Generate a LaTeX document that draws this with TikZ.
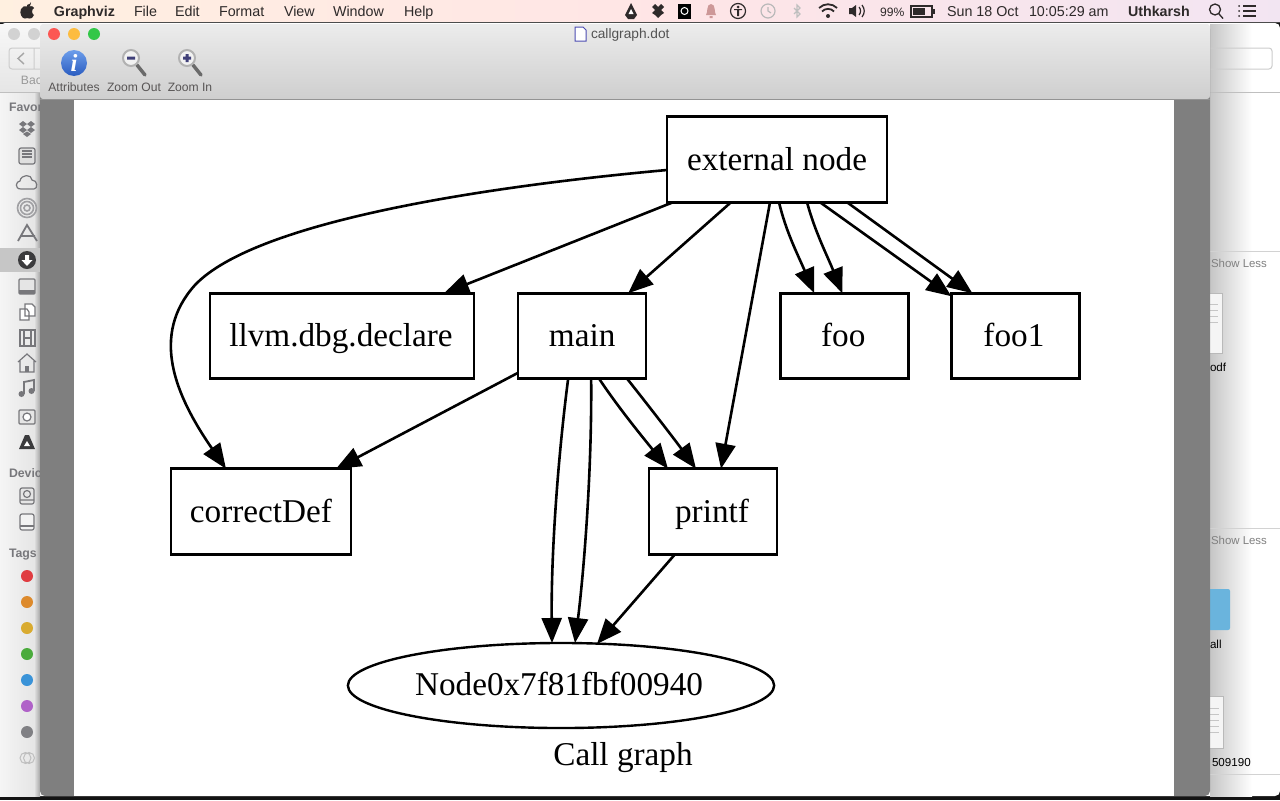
\documentclass[tikz,border=0pt]{standalone}
\usepackage{fontspec}
\setmainfont{Liberation Serif}
\newfontfamily\uifont{Liberation Sans}
\usetikzlibrary{positioning,arrows.meta,shapes.geometric}
\definecolor{menuink}{HTML}{2E2A2A}
\definecolor{sideink}{HTML}{77777B}
\definecolor{canvas}{HTML}{7F7F7F}
\definecolor{tagred}{HTML}{E03C41}
\definecolor{tagorange}{HTML}{DD8A2C}
\definecolor{tagyellow}{HTML}{D9AB30}
\definecolor{taggreen}{HTML}{4AAB3C}
\definecolor{tagblue}{HTML}{3A93D8}
\definecolor{tagpurple}{HTML}{B062C8}
\definecolor{taggray}{HTML}{808084}
\definecolor{lightred}{HTML}{FC5753}
\definecolor{lightamber}{HTML}{FDBC40}
\definecolor{lightgreen}{HTML}{33C748}
\definecolor{folderblue}{HTML}{6AB4DD}
\definecolor{infotop}{HTML}{6D9EEB}
\definecolor{infobot}{HTML}{2A5CC0}

\begin{document}
\begin{tikzpicture}[
  x=0.01cm, y=-0.01cm,
  every node/.style={inner sep=0pt, outer sep=0pt},
  box/.style={draw, line width=0.026cm, minimum height=0.855cm, minimum width=1.28cm, text height=0.23cm, text depth=0.02cm, font=\fontsize{9.45}{11}\selectfont},
  oval/.style={draw, ellipse, line width=0.024cm, minimum width=4.26cm, minimum height=0.85cm, text height=0.21cm, text depth=0.02cm, font=\fontsize{9.45}{11}\selectfont},
  edge/.style={->, line width=0.026cm},
  menuitem/.style={anchor=west, text=menuink, text height=0.11cm, text depth=0.01cm, font=\uifont\fontsize{4.07}{5}\selectfont},
  menubold/.style={anchor=west, text=menuink, text height=0.11cm, text depth=0.01cm, font=\uifont\bfseries\fontsize{4.05}{5}\selectfont},
  toolitem/.style={text=menuink!80, text height=0.09cm, text depth=0.01cm, font=\uifont\fontsize{3.45}{4}\selectfont},
  sidehead/.style={anchor=west, text=sideink, text height=0.09cm, text depth=0.01cm, font=\uifont\bfseries\fontsize{3.5}{4}\selectfont},
  filetext/.style={anchor=west, text=black, text height=0.09cm, text depth=0.01cm, font=\uifont\fontsize{3.3}{4}\selectfont},
  lesstext/.style={anchor=west, text=gray, text height=0.09cm, text depth=0.01cm, font=\uifont\fontsize{3.25}{4}\selectfont},
  icon/.style={draw=sideink, line width=0.012cm},
  solidicon/.style={fill=sideink},
  baricon/.style={draw=menuink, line width=0.014cm},
  >={Triangle[length=0.25cm,width=0.2cm]}
]
\useasboundingbox (0,0) rectangle (1280,800);

% desktop and menu bar
\fill[black!85!gray] (0,0) rectangle (1280,800);
\shade[left color=orange!12, right color=violet!10, middle color=red!10] (0,0) rectangle (1280,22);
\draw[black!70, line width=0.012cm] (0,22.5) -- (1280,22.5);

% window behind
\fill[white, rounded corners=0.05cm] (0,23) rectangle (1280,796);
\shade[left color=white!96!black, right color=white!90!black] (0,93) rectangle (34,796);
\shade[left color=white!90!black, right color=gray!70] (34,93) rectangle (40,796);
\shade[top color=white!97!black, bottom color=white!90!black] (0,24) rectangle (40,92);
\shade[left color=gray!45, right color=white] (1210,24) rectangle (1252,796);
\fill[gray!45] (0,248) rectangle (40,272);
\draw[gray!50, line width=0.01cm] (0,92) -- (40,92) (1210,92) -- (1280,92);
\draw[gray!35, line width=0.01cm] (1210,251) -- (1280,251) (1210,528) -- (1280,528) (1210,774) -- (1280,774);
\fill[gray!35] (14,34) circle (6) (34,34) circle (6);
\draw[gray!40, line width=0.01cm, rounded corners=0.03cm] (9,48) rectangle (50,69) (1200,48) rectangle (1272,69) (34,48) -- (34,69);
\draw[gray!70, line width=0.014cm] (24,53) -- (18,58.5) -- (24,64);

\node[toolitem, text=gray!80, anchor=west] (backlabel) at (21,80) {Bac};
\node[sidehead] (favor) at (9,107) {Favor};
\node[sidehead] (devic) at (9,473) {Devic};
\node[sidehead] (tags) at (9,553) {Tags};

% sidebar icons
\begin{scope}[shift={(27,129)}]
  \fill[solidicon] (-8,-5) -- (-4,-8) -- (0,-5) -- (-4,-2) -- cycle (8,-5) -- (4,-8) -- (0,-5) -- (4,-2) -- cycle
    (-8,1) -- (-4,-2) -- (0,1) -- (-4,4) -- cycle (8,1) -- (4,-2) -- (0,1) -- (4,4) -- cycle (-4,5) -- (0,2.5) -- (4,5) -- (0,8) -- cycle;
\end{scope}
\begin{scope}[shift={(27,156)}]
  \draw[icon, fill=gray!25, rounded corners=0.02cm] (-8,-8) rectangle (8,8);
  \draw[icon] (-5,-5) -- (5,-5) (-5,-2) -- (5,-2) (-5,1) -- (5,1);
\end{scope}
\draw[icon] (21,189) .. controls (14,189) and (16,181) .. (20,181) .. controls (21,174) and (32,174) .. (32,180) .. controls (38,180) and (38,189) .. (34,189) -- cycle;
\draw[sideink!70, line width=0.016cm] (27,208) circle (3) (27,208) circle (6.5) (27,208) circle (9.5);
\draw[icon, line width=0.018cm] (18,241) -- (27,225) -- (37,241) (20,236) -- (35,236);
\fill[sideink!50!black] (27,260) circle (9);
\fill[white] (25,255) rectangle (29,260) (21.5,260) -- (32.5,260) -- (27,266) -- cycle;
\draw[icon, fill=gray!20, rounded corners=0.01cm] (19,279) rectangle (35,294);
\fill[sideink] (19,290) rectangle (35,294);
\draw[icon, fill=white] (25,304) -- (32,304) -- (35,307) -- (35,316) -- (25,316) -- cycle (20,309) -- (27,309) -- (29,312) -- (29,320) -- (20,320) -- cycle;
\draw[icon, fill=gray!15] (20,330) rectangle (35,346) (24,330) -- (24,346) (31,330) -- (31,346) (24,338) -- (31,338);
\draw[icon] (18,362) -- (27,354) -- (36,362) (20,361) -- (20,372) -- (34,372) -- (34,361);
\fill[sideink] (25,366) rectangle (29,372);
\draw[sideink, line width=0.018cm] (24,394) -- (24,382) -- (34,380) -- (34,391);
\fill[sideink] (21.5,394) circle (3) (31.5,391) circle (3);
\draw[icon, fill=gray!20, rounded corners=0.01cm] (19,410) rectangle (35,424);
\draw[icon, fill=white] (27,417) circle (4);
\fill[sideink!50!black] (25,435) -- (29,435) -- (35,449) -- (19,449) -- cycle;
\fill[white] (27,441) -- (30,446) -- (24,446) -- cycle;
\draw[icon, fill=gray!20, rounded corners=0.02cm] (20,488) rectangle (34,504);
\draw[icon] (27,494) circle (3.5) (20,500) -- (34,500);
\draw[icon, fill=gray!10, rounded corners=0.02cm] (20,514) rectangle (34,530);
\draw[icon] (20,526) -- (34,526);

% tag dots
\foreach \ypos/\dotcol in {576/tagred, 602/tagorange, 628/tagyellow, 654/taggreen, 680/tagblue, 706/tagpurple, 732/taggray}
  \fill[\dotcol] (27,\ypos) circle (6);
\draw[gray!50, line width=0.01cm] (29,758) circle (5.5) (25.5,758) circle (5.5);

% files on the right
\node[lesstext] (less1) at (1211,263) {Show Less};
\node[lesstext] (less2) at (1211,540) {Show Less};
\node[filetext] (pdfname) at (1210,367) {odf};
\node[filetext] (allname) at (1210,644) {all};
\node[filetext] (numname) at (1212,762) {509190};
\draw[gray!55, fill=gray!8, line width=0.01cm] (1205,293) rectangle (1222,353) (1205,696) rectangle (1223,748);
\draw[gray!45, line width=0.01cm] (1210,304) -- (1218,304) (1210,310) -- (1218,310) (1210,316) -- (1218,316) (1210,322) -- (1218,322)
  (1210,708) -- (1219,708) (1210,714) -- (1219,714) (1210,720) -- (1219,720) (1210,726) -- (1219,726) (1210,732) -- (1219,732);
\fill[folderblue, rounded corners=0.02cm] (1205,589) rectangle (1230,630);

% front window
\fill[canvas, rounded corners=0.05cm] (40,24) rectangle (1210,796);
\shade[top color=gray!15, bottom color=gray!38, rounded corners=0.03cm] (40,24) rectangle (1210,99);
\draw[gray!85, line width=0.012cm] (40,99.5) -- (1210,99.5);
\fill[white] (74,100) rectangle (1174,796);
\fill[lightred] (54,34) circle (6);
\fill[lightamber] (74,34) circle (6);
\fill[lightgreen] (94,34) circle (6);

% toolbar
\shade[top color=infotop, bottom color=infobot] (74,63) circle (13);
\node[text=white, font=\bfseries\itshape\fontsize{7}{8}\selectfont] (infoglyph) at (74,63) {i};
\draw[gray!20!black!65, line width=0.035cm, line cap=round] (137,65) -- (145,75) (193,65) -- (201,75);
\draw[gray!60, fill=white!90!gray, line width=0.02cm] (131,58) circle (8) (187,58) circle (8);
\fill[blue!30!black!75] (127,56.5) rectangle (135,59.5) (183,56.5) rectangle (191,59.5) (185.5,54) rectangle (188.5,62);
\node[toolitem] (attrs) at (74,87) {Attributes};
\node[toolitem] (zoomout) at (134,87) {Zoom Out};
\node[toolitem] (zoomin) at (190,87) {Zoom In};
\node[toolitem, anchor=west, font=\uifont\fontsize{3.9}{5}\selectfont, text=gray!20!black!75] (title) at (591,34) {callgraph.dot};
\draw[blue!40!gray, fill=white, line width=0.01cm] (575,27) -- (583,27) -- (586,30) -- (586,41) -- (575,41) -- cycle;

% menu bar text
\fill[menuink] (27,5) .. controls (30,5) and (30,3) .. (31,2) .. controls (31,5) and (30,6) .. (29,6.5)
  .. controls (32,5.5) and (34,7) .. (34,8) .. controls (31,10) and (32,14) .. (34,15) .. controls (33,18) and (31,19) .. (29.5,18.5)
  .. controls (28,18) and (26,18) .. (25,18.5) .. controls (22,19) and (19,13) .. (21,9) .. controls (22,6) and (25,6) .. (27,6.5) -- cycle;
\node[menubold] (graphviz) at (54,11) {Graphviz};
\node[menuitem] (filemenu) at (134,11) {File};
\node[menuitem] (editmenu) at (175,11) {Edit};
\node[menuitem] (formatmenu) at (219,11) {Format};
\node[menuitem] (viewmenu) at (284,11) {View};
\node[menuitem] (windowmenu) at (333,11) {Window};
\node[menuitem] (helpmenu) at (404,11) {Help};
\fill[menuink] (631,3) -- (637,15) -- (634,19) -- (628,19) -- (625,15) -- cycle;
\fill[white] (631,9) -- (633.5,14) -- (628.5,14) -- cycle;
\fill[menuink] (652,7) -- (655,4) -- (658,7) -- (661,4) -- (664,7) -- (661,10) -- (664,13) -- (661,15) -- (658,18) -- (655,15) -- (652,13) -- (655,10) -- cycle;
\fill[black] (678,4) rectangle (691,19);
\draw[white, line width=0.01cm] (684.5,11) circle (3.5);
\fill[gray!65!red!60] (706,15) .. controls (708,13) and (706,4) .. (711,4) .. controls (716,4) and (714,13) .. (716,15) -- cycle (709.5,16) rectangle (712.5,18);
\draw[menuink, line width=0.012cm] (738,11) circle (7.5);
\fill[menuink] (738,7) circle (1.5) (734,9) rectangle (742,10) (737,10) rectangle (739,16);
\draw[gray!55, line width=0.012cm] (768,11) circle (7) (768,7) -- (768,11) -- (771,13);
\draw[gray!50, line width=0.012cm] (794,8) -- (800,14) -- (797,17) -- (797,5) -- (800,8) -- (794,14);
\draw[menuink, line width=0.018cm] (819,8) .. controls (824,3) and (832,3) .. (837,8) (822,11.5) .. controls (825,8) and (831,8) .. (834,11.5);
\fill[menuink] (828,16) circle (2);
\fill[menuink] (849,8) -- (852,8) -- (856,5) -- (856,17) -- (852,14) -- (849,14) -- cycle;
\draw[menuink, line width=0.012cm] (859,7) .. controls (861,9) and (861,13) .. (859,15) (862,5) .. controls (865,9) and (865,13) .. (862,17);
\node[menuitem, font=\uifont\fontsize{3.45}{4}\selectfont] (percent) at (880,11) {99\%};
\draw[baricon] (911,6) rectangle (932,17);
\fill[menuink] (933,9) rectangle (935,14);
\fill[menuink] (913,8) rectangle (925,15);
\node[menuitem] (datelabel) at (947,11) {Sun 18 Oct};
\node[menuitem] (timelabel) at (1029,11) {10:05:29 am};
\node[menubold] (username) at (1128,11) {Uthkarsh};
\draw[menuink, line width=0.013cm] (1215,9.5) circle (5.5) (1219,14) -- (1223,18.5);
\draw[menuink, line width=0.016cm] (1243,6) -- (1256,6) (1243,11) -- (1256,11) (1243,16) -- (1256,16);
\fill[menuink] (1239,6) circle (1) (1239,11) circle (1) (1239,16) circle (1);

% the graph
\node[box, minimum width=2.2cm] (extnode) at (777,159.5) {external node};
\node[box, minimum width=2.64cm] (llvmdbg) at (342,336) {llvm.dbg.declare\kern0.02cm};
\node[box, right=0.44cm of llvmdbg] (mainfn) {main};
\node[box, right=1.34cm of mainfn] (foofn) {foo\kern0.02cm};
\node[box, right=0.43cm of foofn] (foofnone) {foo1\kern0.03cm};
\node[box, minimum width=1.8cm] (correctdef) at (261,511.5) {correctDef};
\node[box] (printffn) at (713,511.5) {printf\kern0.02cm};
\node[oval] (nodeaddr) at (561,685.5) {Node0x7f81fbf00940\kern0.04cm};
\node[font=\fontsize{9.45}{11}\selectfont] (graphlabel) at (623,758) {Call graph};

\draw[edge] ([yshift=-0.105cm]extnode.west) .. controls (480,187) and (255,222) .. (195,285) .. controls (150,335) and (175,395) .. ([xshift=-0.35cm]correctdef.north);
\draw[edge] ([xshift=-1.04cm]extnode.south) -- ([xshift=1.02cm]llvmdbg.north);
\draw[edge] ([xshift=-0.46cm]extnode.south) -- ([xshift=0.46cm]mainfn.north);
\draw[edge] ([xshift=-0.07cm]extnode.south) -- ([xshift=0.08cm]printffn.north);
\draw[edge] ([xshift=0.02cm]extnode.south) .. controls (786,232) and (798,255) .. ([xshift=-0.30cm]foofn.north);
\draw[edge] ([xshift=0.30cm]extnode.south) .. controls (815,232) and (827,255) .. ([xshift=-0.02cm]foofn.north);
\draw[edge] ([xshift=0.43cm]extnode.south) -- ([yshift=-0.03cm]foofnone.north west);
\draw[edge] ([xshift=0.70cm]extnode.south) -- ([xshift=-0.43cm]foofnone.north);
\draw[edge] ([yshift=0.06cm]mainfn.south west) -- ([xshift=0.75cm]correctdef.north);
\draw[edge] ([xshift=-0.14cm]mainfn.south) .. controls (557,465) and (551,560) .. ([xshift=-0.09cm]nodeaddr.north);
\draw[edge] ([xshift=0.09cm]mainfn.south) .. controls (592,470) and (584,570) .. ([xshift=0.14cm]nodeaddr.north);
\draw[edge] ([xshift=0.17cm]mainfn.south) .. controls (620,410) and (645,440) .. ([xshift=-0.45cm]printffn.north);
\draw[edge] ([xshift=0.45cm]mainfn.south) .. controls (648,405) and (675,440) .. ([xshift=-0.17cm]printffn.north);
\draw[edge] ([xshift=-0.38cm]printffn.south) -- ([xshift=0.36cm,yshift=-0.01cm]nodeaddr.north);
\end{tikzpicture}
\end{document}
